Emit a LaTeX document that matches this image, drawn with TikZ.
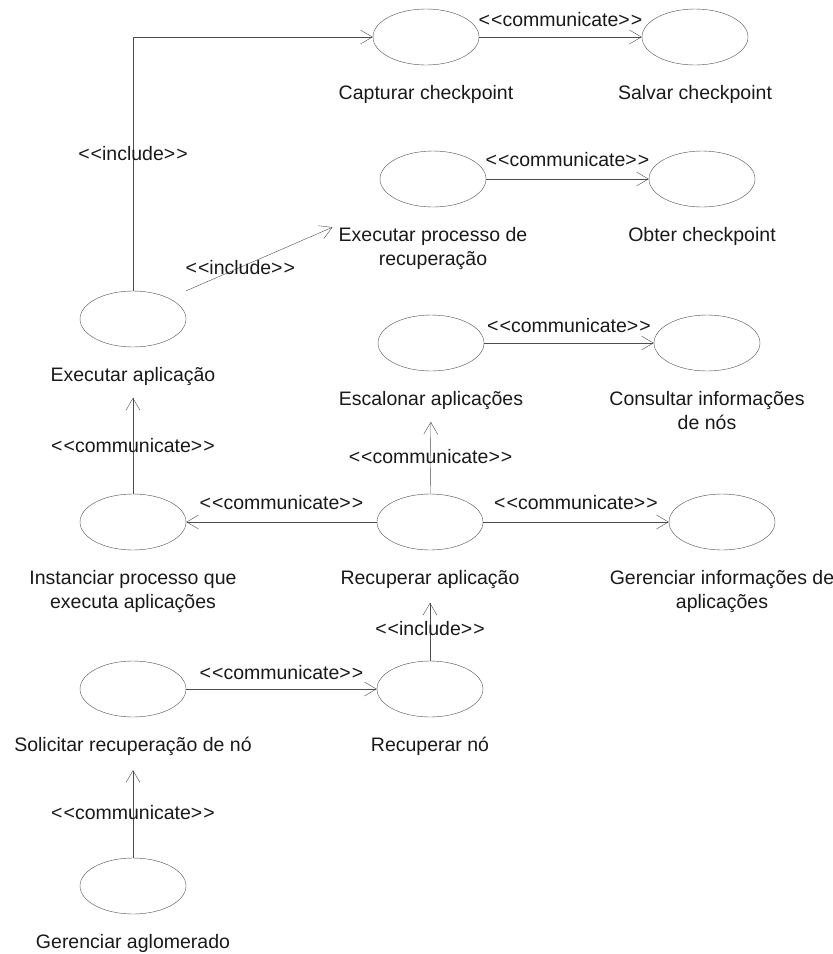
\documentclass[tikz,border=0pt]{standalone}
\usepackage{fontspec}
\setmainfont{Liberation Sans}
\usetikzlibrary{shapes.geometric, positioning, arrows.meta}

\newcommand{\stereo}[1]{<\kern1pt<#1>\kern1pt>}

\tikzset{
    usecase/.style={draw=black!70, ellipse, minimum width=106pt, minimum height=56pt},
    uclabel/.style={align=center, inner sep=0pt, text=black!90},
    assoc/.style={draw=black!70, -{Straight Barb[length=12pt, width=14pt]}},
    stlabel/.style={inner sep=0pt, text=black!90}
}

\begin{document}
\begin{tikzpicture}[x=1pt, y=-1pt, font=\fontsize{19.5}{24}\selectfont]
    \useasboundingbox (0,0) rectangle (833,954);

    \node[usecase] (capturar) at (426,37) {};
    \node[usecase] (salvar) at (695,37) {};
    \node[usecase] (exproc) at (433,179) {};
    \node[usecase] (obter) at (702,179) {};
    \node[usecase] (execapp) at (133,319) {};
    \node[usecase] (escalonar) at (431,343) {};
    \node[usecase] (consultar) at (707,343) {};
    \node[usecase] (instanciar) at (133,522) {};
    \node[usecase] (recapp) at (430,522) {};
    \node[usecase] (gerinfo) at (722,522) {};
    \node[usecase] (solicitar) at (133,689) {};
    \node[usecase] (recno) at (430,689) {};
    \node[usecase] (geraglo) at (133,886) {};

    \node[uclabel, below=20pt of capturar] (capturar-l) {Capturar checkpoint};
    \node[uclabel, below=20pt of salvar] (salvar-l) {Salvar checkpoint};
    \node[uclabel, below=20pt of exproc] (exproc-l) {Executar processo de\\recuperação};
    \node[uclabel, below=20pt of obter] (obter-l) {Obter checkpoint};
    \node[uclabel, below=20pt of execapp] (execapp-l) {Executar aplicação};
    \node[uclabel, below=20pt of escalonar] (escalonar-l) {Escalonar aplicações};
    \node[uclabel, below=20pt of consultar] (consultar-l) {Consultar informações\\de nós};
    \node[uclabel, below=20pt of instanciar] (instanciar-l) {Instanciar processo que\\executa aplicações};
    \node[uclabel, below=20pt of recapp] (recapp-l) {Recuperar aplicação};
    \node[uclabel, below=20pt of gerinfo] (gerinfo-l) {Gerenciar informações de\\aplicações};
    \node[uclabel, below=20pt of solicitar] (solicitar-l) {Solicitar recuperação de nó};
    \node[uclabel, below=20pt of recno] (recno-l) {Recuperar nó};
    \node[uclabel, below=20pt of geraglo] (geraglo-l) {Gerenciar aglomerado};

    \draw[assoc] (execapp) |- node[stlabel, pos=0.27] {\stereo{include}} (capturar);
    \draw[assoc] (execapp.east |- execapp.north) -- node[stlabel, pos=0.37] {\stereo{include}} ([xshift=-6pt]exproc-l.north west);
    \draw[assoc] (capturar) -- node[stlabel, above=10pt] {\stereo{communicate}} (salvar);
    \draw[assoc] (exproc) -- node[stlabel, above=12pt] {\stereo{communicate}} (obter);
    \draw[assoc] (escalonar) -- node[stlabel, above=10pt] {\stereo{communicate}} (consultar);

    \draw[assoc, shorten >=12pt] (instanciar) -- node[stlabel, pos=0.45] {\stereo{communicate}} (execapp-l);
    \draw[assoc, shorten >=12pt] (recapp) -- node[stlabel, pos=0.45] {\stereo{communicate}} (escalonar-l);
    \draw[assoc] (recapp) -- node[stlabel, above=12pt] {\stereo{communicate}} (instanciar);
    \draw[assoc] (recapp) -- node[stlabel, above=12pt] {\stereo{communicate}} (gerinfo);

    \draw[assoc, shorten >=14pt] (recno) -- node[stlabel, pos=0.45] {\stereo{include}} (recapp-l);
    \draw[assoc] (solicitar) -- node[stlabel, above=9pt] {\stereo{communicate}} (recno);
    \draw[assoc, shorten >=14pt] (geraglo) -- node[stlabel, pos=0.45] {\stereo{communicate}} (solicitar-l);
\end{tikzpicture}
\end{document}
